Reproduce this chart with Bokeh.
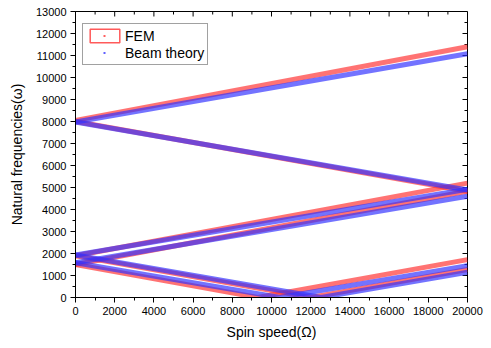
import math
from bokeh.plotting import figure
from bokeh.models import Range1d, Legend, LegendItem, SingleIntervalTicker
from bokeh.embed import file_html
from bokeh.resources import INLINE

# ---- data ----
spin_ends = [0, 20000]
fem_m3_fwd = [8050, 11400]
fem_m3_bwd = [8000, 4830]
beam_m3_fwd = [7980, 11080]
beam_m3_bwd = [7980, 4890]
fem_m2_fwd = [1900, 5200]
beam_m2_fwd = [1930, 4920]
fem_m1_fwd = [1500, 4830]
beam_m1_fwd = [1580, 4600]

fem_m2_bwd_spin = [0, 12000, 20000]
fem_m2_bwd = [1900, 0, 1270]
fem_m1_bwd_spin = [0, 9300, 20000]
fem_m1_bwd = [1500, 0, 1720]
beam_m2_bwd_spin = [0, 12530, 20000]
beam_m2_bwd = [1930, 0, 1150]
beam_m1_bwd_spin = [0, 10430, 20000]
beam_m1_bwd = [1580, 0, 1450]

x_major_ticks = [0, 2000, 4000, 6000, 8000, 10000, 12000, 14000, 16000, 18000, 20000]
x_minor_ticks = [1000, 3000, 5000, 7000, 9000, 11000, 13000, 15000, 17000, 19000]
y_major_ticks = [0, 1000, 2000, 3000, 4000, 5000, 6000, 7000, 8000, 9000, 10000,
                 11000, 12000, 13000]
y_minor_ticks = [500, 1500, 2500, 3500, 4500, 5500, 6500, 7500, 8500, 9500, 10500,
                 11500, 12500]
x_max = 20000
y_max = 13000

FONT = "Liberation Sans"
RED = "#ff3030"
BLUE = "#3030ff"

p = figure(width=491, height=348, output_backend="svg", toolbar_location=None,
           x_range=Range1d(0, x_max), y_range=Range1d(0, y_max),
           min_border_left=75, min_border_right=24, min_border_top=11, min_border_bottom=51)
p.xgrid.visible = False
p.ygrid.visible = False
p.outline_line_color = "black"
p.outline_line_width = 1
p.background_fill_color = "white"

for ax in (p.xaxis[0], p.yaxis[0]):
    ax.major_label_text_font = FONT
    ax.major_label_text_font_size = "11px"
    ax.major_label_text_color = "black"
    ax.axis_label_text_font = FONT
    ax.axis_label_text_font_size = "14px"
    ax.axis_label_text_font_style = "normal"
    ax.axis_label_text_color = "black"
    ax.major_tick_out = 5
    ax.major_tick_in = 0
    ax.minor_tick_out = 3
    ax.minor_tick_in = 0
    ax.axis_line_color = "black"
    ax.major_tick_line_color = "black"
    ax.minor_tick_line_color = "black"
    ax.major_label_standoff = 4
p.xaxis[0].ticker = SingleIntervalTicker(interval=2000, num_minor_ticks=2)
p.yaxis[0].ticker = SingleIntervalTicker(interval=1000, num_minor_ticks=2)
p.xaxis[0].axis_label = "Spin speed(Ω)"
p.yaxis[0].axis_label = "Natural frequencies(ω)"
p.xaxis[0].axis_label_standoff = 6
p.yaxis[0].axis_label_standoff = 8

# mirrored inward ticks on top and right edges
p.ray(x=x_major_ticks, y=[y_max] * len(x_major_ticks), length=5, length_units="screen",
      angle=-math.pi / 2, line_color="black", line_width=1)
p.ray(x=x_minor_ticks, y=[y_max] * len(x_minor_ticks), length=3, length_units="screen",
      angle=-math.pi / 2, line_color="black", line_width=1)
p.ray(x=[x_max] * len(y_major_ticks), y=y_major_ticks, length=5, length_units="screen",
      angle=math.pi, line_color="black", line_width=1)
p.ray(x=[x_max] * len(y_minor_ticks), y=y_minor_ticks, length=3, length_units="screen",
      angle=math.pi, line_color="black", line_width=1)

W = 5
A = 0.68
# FEM series
for xs, ys in [(spin_ends, fem_m3_fwd), (spin_ends, fem_m3_bwd), (spin_ends, fem_m2_fwd),
               (spin_ends, fem_m1_fwd), (fem_m2_bwd_spin, fem_m2_bwd), (fem_m1_bwd_spin, fem_m1_bwd)]:
    p.line(xs, ys, line_color=RED, line_width=W, line_alpha=A)
# Beam theory series
for xs, ys in [(spin_ends, beam_m3_fwd), (spin_ends, beam_m3_bwd), (spin_ends, beam_m2_fwd),
               (spin_ends, beam_m1_fwd), (beam_m2_bwd_spin, beam_m2_bwd), (beam_m1_bwd_spin, beam_m1_bwd)]:
    p.line(xs, ys, line_color=BLUE, line_width=W, line_alpha=A)

# legend-only renderers (placed outside the visible range)
leg_box = p.rect(x=[-1e6], y=[-1e6], width=1, height=1, fill_alpha=0,
                 line_color="#ff5a5a", line_width=1.5)
leg_fem = p.line(x=[-1e6, -9e5], y=[-1e6, -1e6], line_color="#ff6060", line_width=2,
                 line_dash="2 80", line_dash_offset=-17)
leg_beam = p.line(x=[-1e6, -9e5], y=[-1e6, -1e6], line_color="#6060ff", line_width=2,
                  line_dash="2 80", line_dash_offset=-17)

legend = Legend(items=[LegendItem(label="FEM", renderers=[leg_box, leg_fem]),
                       LegendItem(label="Beam theory", renderers=[leg_beam])],
                location=(7, 232), padding=3, spacing=0, margin=0,
                glyph_width=37, glyph_height=17, label_height=16, label_standoff=2,
                label_text_font=FONT, label_text_font_size="14px",
                label_text_color="black",
                border_line_color="#444444", border_line_width=1,
                background_fill_color="white", background_fill_alpha=1)
p.add_layout(legend)

open("out.html", "w").write(file_html(p, INLINE))
